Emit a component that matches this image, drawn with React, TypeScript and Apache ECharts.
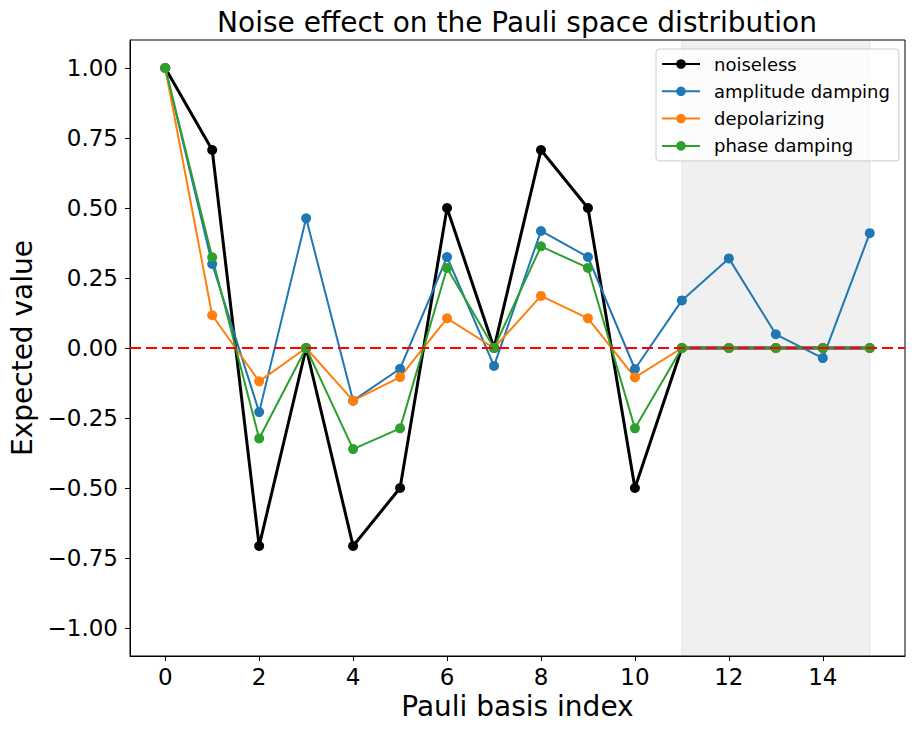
import React, { useEffect, useRef } from "react";
import * as echarts from "echarts";

const indices = [0, 1, 2, 3, 4, 5, 6, 7, 8, 9, 10, 11, 12, 13, 14, 15];
const noiseless = [1.0, 0.707, -0.707, 0.0, -0.707, -0.5, 0.5, 0.0, 0.707, 0.5, -0.5, 0.0, 0.0, 0.0, 0.0, 0.0];
const amplitudeDamping = [1.0, 0.3, -0.229, 0.463, -0.188, -0.074, 0.325, -0.064, 0.418, 0.325, -0.075, 0.17, 0.32, 0.049, -0.036, 0.41];
const depolarizing = [1.0, 0.117, -0.119, 0.0, -0.188, -0.104, 0.106, 0.0, 0.186, 0.106, -0.105, 0.0, 0.0, 0.0, 0.0, 0.0];
const phaseDamping = [1.0, 0.324, -0.323, 0.0, -0.361, -0.287, 0.286, 0.0, 0.363, 0.286, -0.287, 0.0, 0.0, 0.0, 0.0, 0.0];
const xTicks = [0, 2, 4, 6, 8, 10, 12, 14];
const yTicks = [-1, -0.75, -0.5, -0.25, 0, 0.25, 0.5, 0.75, 1];
const shadedRange = [11, 15];

const FONT = "DejaVu Sans";

export default function App() {
  const ref = useRef<HTMLDivElement>(null);
  useEffect(() => {
    if (!ref.current) return;
    const chart = echarts.init(ref.current, undefined, { renderer: "svg" });
    const toPairs = (vals: number[]) => indices.map((x, i) => [x, vals[i]]);
    const mkSeries = (name: string, vals: number[], color: string, width: number, extra: any = {}) => ({
      name,
      type: "line",
      data: toPairs(vals),
      symbol: "circle",
      symbolSize: 10,
      showSymbol: true,
      lineStyle: { color, width },
      itemStyle: { color },
      emphasis: { disabled: true },
      ...extra,
    });
    chart.setOption({
      animation: false,
      textStyle: { fontFamily: FONT },
      graphic: [
        {
          type: "text",
          x: 517,
          y: 22,
          style: {
            text: "Noise effect on the Pauli space distribution",
            fontFamily: FONT,
            fontSize: 28,
            fill: "#000",
            textAlign: "center",
            textVerticalAlign: "middle",
          },
        },
      ],
      grid: {
        left: 130,
        right: 9,
        top: 40,
        bottom: 77,
        show: true,
        borderColor: "#000",
        borderWidth: 1,
        containLabel: false,
        outerBoundsMode: "none",
      },
      legend: {
        orient: "vertical",
        left: 656,
        top: 49,
        itemWidth: 38,
        itemHeight: 12,
        itemGap: 9.3,
        padding: [6, 9, 6, 5],
        borderColor: "#cccccc",
        borderWidth: 1,
        borderRadius: 3,
        backgroundColor: "rgba(255,255,255,0.8)",
        textStyle: { fontFamily: FONT, fontSize: 18, color: "#000", padding: [0, 0, 0, 9] },
        data: ["noiseless", "amplitude damping", "depolarizing", "phase damping"],
      },
      xAxis: {
        type: "value",
        min: -0.75,
        max: 15.75,
        name: "Pauli basis index",
        nameLocation: "middle",
        nameGap: 34,
        nameTextStyle: { fontFamily: FONT, fontSize: 28, color: "#000" },
        axisLine: { show: true, onZero: false, lineStyle: { color: "#000", width: 1 } },
        axisTick: { show: true, length: 5, lineStyle: { color: "#000" }, customValues: xTicks },
        axisLabel: {
          customValues: xTicks,
          fontFamily: FONT,
          fontSize: 23,
          color: "#000",
          margin: 9,
          formatter: (v: number) => String(v),
        },
        splitLine: { show: false },
      },
      yAxis: {
        type: "value",
        min: -1.1,
        max: 1.1,
        name: "Expected value",
        nameLocation: "middle",
        nameGap: 93,
        nameTextStyle: { fontFamily: FONT, fontSize: 28, color: "#000" },
        axisLine: { show: true, onZero: false, lineStyle: { color: "#000", width: 1 } },
        axisTick: { show: true, length: 5, lineStyle: { color: "#000" }, customValues: yTicks },
        axisLabel: {
          customValues: yTicks,
          fontFamily: FONT,
          fontSize: 23,
          color: "#000",
          margin: 12,
          formatter: (v: number) => {
            const s = Math.abs(v).toFixed(2);
            return v < -1e-9 ? "\u2212" + s : s;
          },
        },
        splitLine: { show: false },
      },
      series: [
        mkSeries("noiseless", noiseless, "#000000", 3, {
          markArea: {
            silent: true,
            itemStyle: {
              color: "rgba(128,128,128,0.12)",
              borderColor: "rgba(128,128,128,0.16)",
              borderWidth: 1,
            },
            data: [[{ xAxis: shadedRange[0] }, { xAxis: shadedRange[1] }]],
          },
        }),
        mkSeries("amplitude damping", amplitudeDamping, "#1f77b4", 2),
        mkSeries("depolarizing", depolarizing, "#ff7f0e", 2),
        mkSeries("phase damping", phaseDamping, "#2ca02c", 2, {
          markLine: {
            silent: true,
            symbol: "none",
            label: { show: false },
            lineStyle: { color: "#ff0000", width: 2, type: [11, 5] },
            data: [{ yAxis: 0 }],
          },
        }),
      ],
    });
    return () => chart.dispose();
  }, []);
  return (
    <div
      ref={ref}
      style={{ position: "fixed", left: 0, top: 0, width: 914, height: 733, background: "#fff" }}
    />
  );
}
